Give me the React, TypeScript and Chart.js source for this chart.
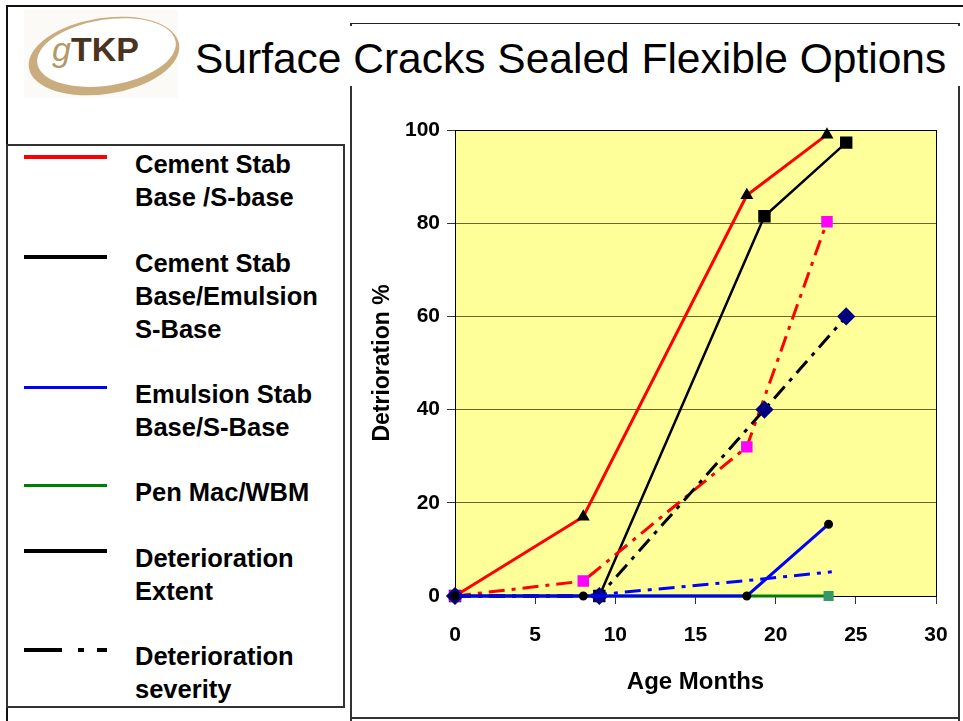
import React, { useEffect, useRef } from "react";
import { Chart, registerables } from "chart.js";
Chart.register(...registerables);

// ---- data ----
const xMin = 0;
const xMax = 30;
const xStep = 5;
const yMin = 0;
const yMax = 100;
const yStep = 20;

const cemAge = [0, 8, 18.2, 23.2];
const cemExtent = [0, 17, 86, 99];
const cemSeverity = [0, 3.2, 32, 80.3];

const cemEmAge = [0, 9, 19.3, 24.4];
const cemEmExtent = [0, 0, 81.5, 97.3];
const cemEmSeverity = [0, 0, 40, 60];

const emAge = [0, 8, 18.2, 23.3];
const emExtent = [0, 0, 0, 15.4];
const emSevAge = [0, 8, 18.2, 23.5];
const emSeverity = [0, 0, 3.3, 5.2];

const penAge = [0, 8, 18.2, 23.3];
const penExtent = [0, 0, 0, 0];

const legendItems = [
  { label: ["Cement Stab", "Base /S-base"], color: "#ff0000", dash: false, width: 4 },
  { label: ["Cement Stab", "Base/Emulsion", "S-Base"], color: "#000000", dash: false, width: 4 },
  { label: ["Emulsion Stab", "Base/S-Base"], color: "#0000ff", dash: false, width: 3 },
  { label: ["Pen Mac/WBM"], color: "#008000", dash: false, width: 3 },
  { label: ["Deterioration", "Extent"], color: "#000000", dash: false, width: 4 },
  { label: ["Deterioration", "severity"], color: "#000000", dash: true, width: 4 },
];

const titleText = "Surface Cracks Sealed Flexible Options";
const xTitle = "Age Months";
const yTitle = "Detrioration %";

const pts = (xs: number[], ys: number[]) => xs.map((x, i) => ({ x, y: ys[i] }));
const DASHDOT = [16, 7, 4, 7];
const FONT = "'Liberation Sans', Arial, Helvetica, sans-serif";

const plotBg = {
  id: "plotBg",
  beforeDraw(chart: any) {
    const { ctx, chartArea: a } = chart;
    ctx.save();
    ctx.fillStyle = "#ffff99";
    ctx.fillRect(a.left, a.top, a.right - a.left, a.bottom - a.top);
    ctx.restore();
  },
  beforeDatasetsDraw(chart: any) {
    const { ctx, chartArea: a } = chart;
    ctx.save();
    ctx.strokeStyle = "#000";
    ctx.lineWidth = 1;
    ctx.strokeRect(Math.round(a.left) + 0.5, Math.round(a.top) + 0.5, Math.round(a.right - a.left), Math.round(a.bottom - a.top));
    ctx.restore();
  },
};

function ChartCanvas() {
  const ref = useRef<HTMLCanvasElement | null>(null);
  useEffect(() => {
    if (!ref.current) return;
    const chart = new Chart(ref.current, {
      type: "line",
      data: {
        datasets: [
          {
            label: "Emulsion extent",
            data: pts(emAge, emExtent),
            borderColor: "#0000ff",
            borderWidth: 3,
            pointStyle: "circle",
            pointRadius: 3,
            pointBackgroundColor: "#000",
            pointBorderColor: "#000",
            order: 1,
          },
          {
            label: "CemEm severity",
            data: pts(cemEmAge, cemEmSeverity),
            borderColor: "#000000",
            borderWidth: 3,
            borderDash: DASHDOT,
            pointStyle: "rectRot",
            pointRadius: 7,
            pointBackgroundColor: "#000080",
            pointBorderColor: "#000080",
            order: 2,
          },
          {
            label: "Cem severity",
            data: pts(cemAge, cemSeverity),
            borderColor: "#ff0000",
            borderWidth: 3,
            borderDash: DASHDOT,
            pointStyle: "rect",
            pointRadius: 6,
            pointBackgroundColor: "#ff00ff",
            pointBorderColor: "#ff00ff",
            order: 3,
          },
          {
            label: "Emulsion severity",
            data: pts(emSevAge, emSeverity),
            borderColor: "#0000ff",
            borderWidth: 3,
            borderDash: DASHDOT,
            pointRadius: 0,
            order: 4,
          },
          {
            label: "CemEm extent",
            data: pts(cemEmAge, cemEmExtent),
            borderColor: "#000000",
            borderWidth: 2.5,
            pointStyle: "rect",
            pointRadius: 7,
            pointBackgroundColor: "#000",
            pointBorderColor: "#000",
            order: 5,
          },
          {
            label: "Cem extent",
            data: pts(cemAge, cemExtent),
            borderColor: "#ff0000",
            borderWidth: 3,
            pointStyle: "triangle",
            pointRadius: 4.5,
            pointBackgroundColor: "#000",
            pointBorderColor: "#000",
            order: 6,
          },
          {
            label: "Pen Mac",
            data: pts(penAge, penExtent),
            borderColor: "#008000",
            borderWidth: 3,
            pointStyle: "rect",
            pointRadius: [0, 0, 0, 5],
            pointBackgroundColor: "#339966",
            pointBorderColor: "#339966",
            order: 7,
          },
        ] as any,
      },
      options: {
        animation: false,
        responsive: false,
        maintainAspectRatio: false,
        layout: { padding: { left: 0, top: 42, right: 21, bottom: 0 } },
        plugins: { legend: { display: false }, tooltip: { enabled: false }, title: { display: false } },
        elements: { line: { tension: 0, fill: false }, point: { borderWidth: 1 } },
        datasets: { line: { clip: false } as any },
        scales: {
          x: {
            type: "linear",
            min: xMin,
            max: xMax,
            ticks: { stepSize: xStep, color: "#000", padding: 19, font: { family: FONT, size: 21, weight: "bold" } },
            grid: { drawOnChartArea: false, drawTicks: true, tickLength: 8, tickColor: "#333", color: "#333" },
            border: { display: true, color: "#000", width: 1 },
            title: { display: true, text: xTitle, color: "#000", padding: { top: 0, bottom: 21 }, font: { family: FONT, size: 24, weight: "bold" } },
            afterFit: (s: any) => { s.height = 122; s.paddingLeft = 0; s.paddingRight = 0; },
          },
          y: {
            type: "linear",
            min: yMin,
            max: yMax,
            ticks: { stepSize: yStep, color: "#000", padding: 7, font: { family: FONT, size: 21, weight: "bold" } },
            grid: { color: "rgba(40,40,0,0.7)", lineWidth: 1, tickLength: 8, tickColor: "#333" },
            border: { display: true, color: "#000", width: 1 },
            title: { display: true, text: yTitle, color: "#000", padding: { top: 18, bottom: 0 }, font: { family: FONT, size: 23, weight: "bold" } },
            afterFit: (s: any) => { s.width = 104; s.paddingTop = 0; s.paddingBottom = 0; },
          },
        },
      } as any,
      plugins: [plotBg],
    });
    return () => chart.destroy();
  }, []);
  return <canvas ref={ref} width={606} height={630} style={{ position: "absolute", left: 351, top: 88, width: 606, height: 630 }} />;
}

function Logo() {
  return (
    <svg width={170} height={100} style={{ position: "absolute", left: 14, top: 4 }} viewBox="0 0 170 100">
      <rect x={10} y={6} width={154} height={88} fill="#fbfaf6" />
      <g transform="rotate(-9 90 52)">
        <ellipse cx={90} cy={52} rx={76} ry={38} fill="#c9ad7e" />
        <ellipse cx={93} cy={49} rx={70} ry={33} fill="#ffffff" />
      </g>
      <text x={38} y={57} fontFamily={FONT} fontSize={34} fontStyle="italic" fill="#b39868">g</text>
      <text x={57} y={57} fontFamily={FONT} fontSize={34} fontWeight="bold" fill="#4a3420">TKP</text>
    </svg>
  );
}

function LegendSample({ item, top }: { item: any; top: number }) {
  if (!item.dash) {
    return <div style={{ position: "absolute", left: 24, top: top - item.width / 2, width: 83, height: item.width, background: item.color }} />;
  }
  const segs = [
    [24, 38],
    [78, 6],
    [97, 10],
  ];
  return (
    <>
      {segs.map(([l, w], i) => (
        <div key={i} style={{ position: "absolute", left: l, top: top - item.width / 2, width: w, height: item.width, background: item.color }} />
      ))}
    </>
  );
}

const sampleY = [157, 257, 387, 485, 551, 650];
const textTop = [164, 263, 394, 492, 558, 656];

export default function App() {
  return (
    <div style={{ position: "absolute", left: 0, top: 0, width: 963, height: 721, overflow: "hidden", background: "#fff", fontFamily: FONT }}>
      {/* outer frame */}
      <div style={{ position: "absolute", left: 6, top: 5, width: 980, height: 760, borderTop: "2px solid #111", borderLeft: "2px solid #111" }} />
      {/* chart frame */}
      <div style={{ position: "absolute", left: 350, top: 23, width: 606, height: 720, borderTop: "1px solid #222", borderLeft: "2px solid #333", borderRight: "2px solid #333" }} />
      <div style={{ position: "absolute", left: 350, top: 717, width: 608, height: 2, background: "#333" }} />
      {/* title */}
      <div style={{ position: "absolute", left: 180, top: 26, width: 783, height: 60, background: "#fff" }} />
      <div style={{ position: "absolute", left: 195, top: 34, fontSize: 42.5, lineHeight: "50px", color: "#000", whiteSpace: "nowrap" }}>{titleText}</div>
      <Logo />
      {/* legend */}
      <div style={{ position: "absolute", left: 6, top: 144, width: 335, height: 560, border: "2px solid #333" }} />
      {legendItems.map((item, i) => (
        <React.Fragment key={i}>
          <LegendSample item={item} top={sampleY[i]} />
          <div style={{ position: "absolute", left: 135, top: textTop[i] - 16.5, fontSize: 25.5, fontWeight: "bold", lineHeight: "33px", color: "#000", whiteSpace: "nowrap" }}>
            {item.label.map((l: string, j: number) => (
              <div key={j}>{l}</div>
            ))}
          </div>
        </React.Fragment>
      ))}
      <ChartCanvas />
    </div>
  );
}
